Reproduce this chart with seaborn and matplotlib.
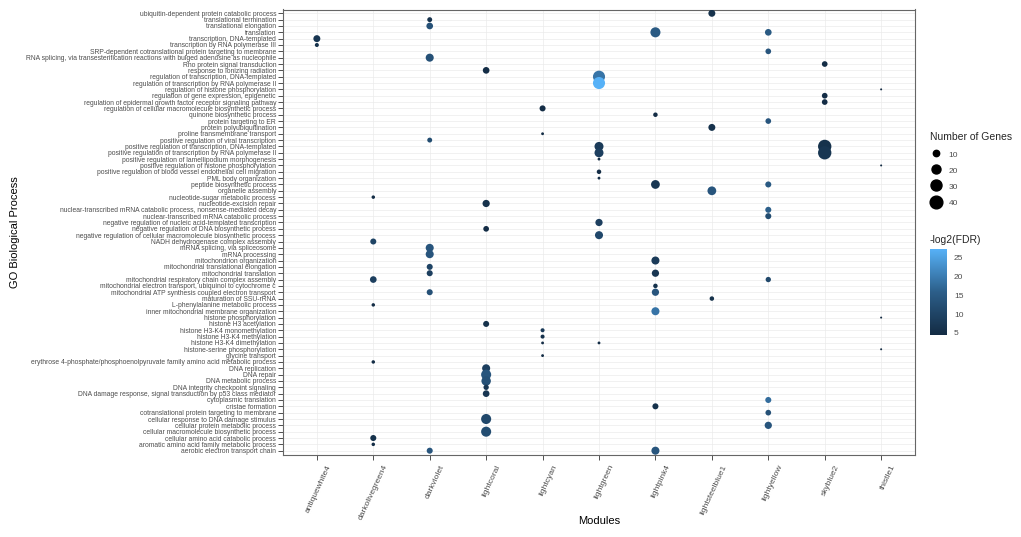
import numpy as np
import matplotlib
matplotlib.use("Agg")
import matplotlib.pyplot as plt
import matplotlib.transforms as mtransforms
import pandas as pd
import seaborn as sns
from matplotlib.colors import LinearSegmentedColormap, Normalize
from matplotlib.cm import ScalarMappable
from matplotlib.lines import Line2D

# Modulos (eje X)
modules = ["antiquewhite4", "darkolivegreen4", "darkviolet", "lightcoral", "lightcyan",
           "lightgreen", "lightpink4", "lightsteelblue1", "lightyellow", "skyblue2", "thistle1"]

# Terminos GO, de arriba a abajo
terms = [
    "ubiquitin-dependent protein catabolic process",
    "translational termination",
    "translational elongation",
    "translation",
    "transcription, DNA-templated",
    "transcription by RNA polymerase III",
    "SRP-dependent cotranslational protein targeting to membrane",
    "RNA splicing, via transesterification reactions with bulged adenosine as nucleophile",
    "Rho protein signal transduction",
    "response to ionizing radiation",
    "regulation of transcription, DNA-templated",
    "regulation of transcription by RNA polymerase II",
    "regulation of histone phosphorylation",
    "regulation of gene expression, epigenetic",
    "regulation of epidermal growth factor receptor signaling pathway",
    "regulation of cellular macromolecule biosynthetic process",
    "quinone biosynthetic process",
    "protein targeting to ER",
    "protein polyubiquitination",
    "proline transmembrane transport",
    "positive regulation of viral transcription",
    "positive regulation of transcription, DNA-templated",
    "positive regulation of transcription by RNA polymerase II",
    "positive regulation of lamellipodium morphogenesis",
    "positive regulation of histone phosphorylation",
    "positive regulation of blood vessel endothelial cell migration",
    "PML body organization",
    "peptide biosynthetic process",
    "organelle assembly",
    "nucleotide-sugar metabolic process",
    "nucleotide-excision repair",
    "nuclear-transcribed mRNA catabolic process, nonsense-mediated decay",
    "nuclear-transcribed mRNA catabolic process",
    "negative regulation of nucleic acid-templated transcription",
    "negative regulation of DNA biosynthetic process",
    "negative regulation of cellular macromolecule biosynthetic process",
    "NADH dehydrogenase complex assembly",
    "mRNA splicing, via spliceosome",
    "mRNA processing",
    "mitochondrion organization",
    "mitochondrial translational elongation",
    "mitochondrial translation",
    "mitochondrial respiratory chain complex assembly",
    "mitochondrial electron transport, ubiquinol to cytochrome c",
    "mitochondrial ATP synthesis coupled electron transport",
    "maturation of SSU-rRNA",
    "L-phenylalanine metabolic process",
    "inner mitochondrial membrane organization",
    "histone phosphorylation",
    "histone H3 acetylation",
    "histone H3-K4 monomethylation",
    "histone H3-K4 methylation",
    "histone H3-K4 dimethylation",
    "histone-serine phosphorylation",
    "glycine transport",
    "erythrose 4-phosphate/phosphoenolpyruvate family amino acid metabolic process",
    "DNA replication",
    "DNA repair",
    "DNA metabolic process",
    "DNA integrity checkpoint signaling",
    "DNA damage response, signal transduction by p53 class mediator",
    "cytoplasmic translation",
    "cristae formation",
    "cotranslational protein targeting to membrane",
    "cellular response to DNA damage stimulus",
    "cellular protein metabolic process",
    "cellular macromolecule biosynthetic process",
    "cellular amino acid catabolic process",
    "aromatic amino acid family metabolic process",
    "aerobic electron transport chain",
]

# Puntos: modulo, fila del termino (1 = arriba), numero de genes, -log2(FDR)
pt_module = (["antiquewhite4"] * 2 + ["darkolivegreen4"] * 7 + ["darkviolet"] * 10 +
             ["lightcoral"] * 11 + ["lightcyan"] * 6 + ["lightgreen"] * 10 +
             ["lightpink4"] * 10 + ["lightsteelblue1"] * 4 + ["lightyellow"] * 10 +
             ["skyblue2"] * 5 + ["thistle1"] * 4)
pt_row = [5, 6,
          30, 37, 43, 47, 56, 68, 69,
          2, 3, 8, 21, 38, 39, 41, 42, 45, 70,
          10, 31, 35, 50, 57, 58, 59, 60, 61, 65, 67,
          16, 20, 51, 52, 53, 55,
          11, 12, 22, 23, 24, 26, 27, 34, 36, 53,
          4, 17, 28, 40, 42, 44, 45, 48, 63, 70,
          1, 19, 29, 46,
          4, 7, 18, 28, 32, 33, 43, 62, 64, 66,
          9, 14, 15, 22, 23,
          13, 25, 49, 54]
pt_genes = [12, 4,
            3, 9, 11, 3, 3, 9, 3,
            6, 11, 16, 6, 16, 16, 9, 9, 9, 9,
            11, 13, 8, 9, 16, 25, 22, 7, 11, 25, 25,
            9, 2, 4, 4, 2, 2,
            36, 36, 20, 20, 2, 5, 2, 13, 16, 2,
            25, 5, 19, 16, 13, 5, 13, 16, 9, 16,
            12, 12, 19, 5,
            11, 8, 8, 9, 9, 9, 7, 9, 8, 13,
            8, 8, 8, 44, 44,
            1, 1, 1, 1]
pt_fdr = [7, 6,
          5, 10, 9, 5, 5, 6, 5,
          6, 13, 13, 12, 14, 14, 10, 9, 13, 14,
          5, 6, 5, 6, 9, 14, 13, 7, 7, 11, 12,
          5, 5, 8, 6, 5, 5,
          19, 27.4, 8, 9, 5, 5, 5, 9, 11, 5,
          15, 5, 7, 8, 7, 6, 14, 19, 6, 14,
          6, 6, 14, 6,
          15, 14, 14, 15, 16, 12, 11, 18, 13, 14,
          5, 5, 5, 6, 7,
          4.4, 4.4, 4.4, 4.4]

df = pd.DataFrame({
    "Modules": pd.Categorical(pt_module, categories=modules),
    "GO": pd.Categorical([terms[r - 1] for r in pt_row], categories=terms[::-1]),
    "genes": pt_genes,
    "fdr": pt_fdr,
})

sns.set_theme(style="white")
plt.rcParams["font.family"] = ["Liberation Sans", "DejaVu Sans"]

W, H = 1021, 537
fig = plt.figure(figsize=(W / 100, H / 100), dpi=100)
ax = fig.add_axes([283 / W, 1 - 454.5 / H, 632 / W, 445 / H])

# Escala de color tipo ggplot
cmap = LinearSegmentedColormap.from_list("gg", ["#132B43", "#2C5E89", "#56B1F7"])
norm = Normalize(min(pt_fdr), max(pt_fdr))
area = 2.1  # pt^2 por gen

sns.scatterplot(data=df, x="Modules", y="GO", size="genes", hue="fdr",
                sizes=(area * min(pt_genes), area * max(pt_genes)),
                size_norm=(min(pt_genes), max(pt_genes)),
                palette=cmap, hue_norm=norm, linewidth=0, alpha=1,
                legend=False, ax=ax, zorder=3)

ax.set_xlim(-0.6, len(modules) - 0.4)
ax.set_ylim(-0.6, len(terms) - 0.4)
ax.set_facecolor("white")
ax.grid(True, color="#EBEBEB", linewidth=0.5)
ax.set_axisbelow(True)
for s in ax.spines.values():
    s.set_visible(True)
    s.set_color("#666666")
    s.set_linewidth(0.8)

ax.tick_params(axis="y", labelsize=4.85, labelcolor="#4D4D4D", color="#333333",
               length=3.5, width=0.6, pad=1.5, left=True)
ax.tick_params(axis="x", labelsize=6, labelcolor="#4D4D4D", color="#333333",
               length=3.5, width=0.6, pad=2, bottom=True)
ax.set_xticks(range(len(modules)))
ax.set_xticklabels(modules, rotation=65, ha="right", va="center", rotation_mode="anchor")
offset = mtransforms.ScaledTranslation(13 / 100, -3 / 100, fig.dpi_scale_trans)
for lab in ax.get_xticklabels():
    lab.set_transform(lab.get_transform() + offset)

ax.set_xlabel("Modules", fontsize=8, color="black")
ax.xaxis.set_label_coords(0.5, (454.5 - 516) / 445)
ax.set_ylabel("GO Biological Process", fontsize=8, color="black")
ax.yaxis.set_label_coords((20 - 283) / 632, 0.5)

# Leyenda de tamaño
vals = [10, 20, 30, 40]
handles = [Line2D([], [], ls="", marker="o", color="black", markersize=np.sqrt(area * v))
           for v in vals]
leg = fig.legend(handles, [str(v) for v in vals], title="Number of Genes",
                 loc="upper left", bbox_to_anchor=(922 / W, 1 - 125 / H), frameon=False,
                 fontsize=6, title_fontsize=7.5, handletextpad=0.7, labelspacing=0.85,
                 handlelength=1.6, handleheight=1.2, alignment="left")
for t in leg.get_texts():
    t.set_color("#4D4D4D")

# Barra de color
cax = fig.add_axes([930 / W, 1 - 335 / H, 17 / W, 86 / H])
cb = fig.colorbar(ScalarMappable(norm=norm, cmap=cmap), cax=cax)
cb.set_ticks([5, 10, 15, 20, 25])
cb.outline.set_visible(False)
cax.tick_params(labelsize=6, labelcolor="#4D4D4D", color="white", direction="in",
                length=3, width=0.6, pad=5, left=True, right=True)
fig.text(930 / W, 1 - 240 / H, "-log2(FDR)", fontsize=7.5, va="center", ha="left")

fig.savefig("out.png", dpi=100)
